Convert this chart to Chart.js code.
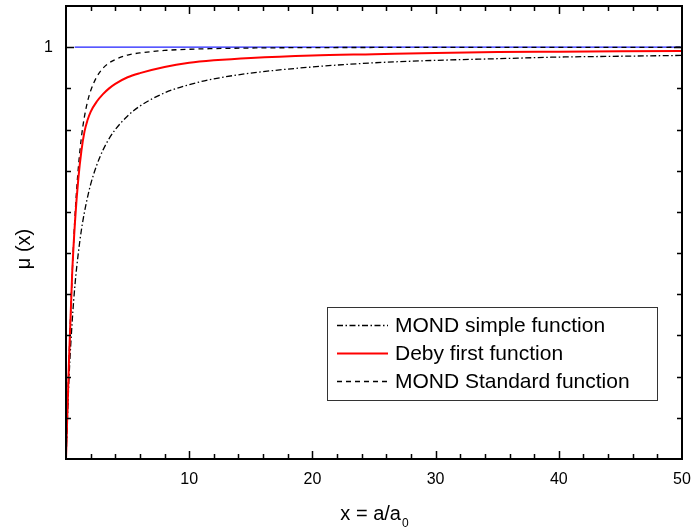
<!DOCTYPE html>
<html>
<head>
<meta charset="utf-8">
<script src="https://cdn.jsdelivr.net/npm/chart.js@4.4.1/dist/chart.umd.min.js"></script>
<style>
  html, body { margin: 0; padding: 0; background: #fff; }
  #wrap { width: 693px; height: 529px; }
</style>
</head>
<body>
<div id="wrap"><canvas id="mu"></canvas></div>
<script>
// values, x = a/a0
var xs = [0, 0.25, 0.5, 0.75, 1, 1.25, 1.5, 1.75, 2, 2.5, 3, 3.5, 4, 5, 6, 8, 10, 12, 15, 20, 25, 30, 35, 40, 45, 50];
var simple = [0, 0.20, 0.333, 0.43, 0.50, 0.556, 0.60, 0.636, 0.667, 0.714, 0.75, 0.778, 0.80, 0.833, 0.857, 0.889, 0.909, 0.923, 0.937, 0.952, 0.962, 0.968, 0.972, 0.976, 0.978, 0.980];
var deby = [0, 0.245, 0.45, 0.585, 0.68, 0.748, 0.795, 0.823, 0.843, 0.868, 0.886, 0.90, 0.911, 0.927, 0.937, 0.952, 0.962, 0.968, 0.974, 0.980, 0.983, 0.986, 0.988, 0.989, 0.990, 0.991];
var standard = [0, 0.243, 0.447, 0.60, 0.707, 0.781, 0.832, 0.868, 0.894, 0.928, 0.949, 0.962, 0.970, 0.981, 0.986, 0.992, 0.995, 0.9965, 0.998, 0.999, 0.9993, 0.9995, 0.9996, 0.9997, 0.9997, 0.9998];
var unityX = [0.7, 50];
var unityY = [1, 1];

var legendNames = ["MOND simple function", "Deby first function", "MOND Standard function"];

function pts(x, y) {
  return x.map(function (v, i) { return { x: v, y: y[i] }; });
}

// drop the label overhang padding so the frame sits where the original does
function noOverhang(s) {
  s.paddingTop = 0; s.paddingBottom = 0; s.paddingLeft = 0; s.paddingRight = 0;
}

var frame = {
  id: "frame",
  afterDraw: function (chart) {
    var c = chart.ctx, a = chart.chartArea;
    var sx = chart.scales.x, sy = chart.scales.y;
    c.save();
    c.strokeStyle = "#000";
    c.lineWidth = 2;
    c.strokeRect(a.left, a.top, a.right - a.left, a.bottom - a.top);
    c.lineWidth = 1.5;
    // x ticks, inward, bottom and top
    for (var v = 2; v < 50; v += 2) {
      var px = Math.round(sx.getPixelForValue(v)) + 0.5;
      var len = v % 10 === 0 ? 8 : 5;
      c.beginPath();
      c.moveTo(px, a.bottom); c.lineTo(px, a.bottom - len);
      c.moveTo(px, a.top); c.lineTo(px, a.top + len);
      c.stroke();
    }
    // y ticks every 0.1
    for (var k = 1; k <= 10; k++) {
      var py = Math.round(sy.getPixelForValue(k / 10)) + 0.5;
      var l2 = k === 10 ? 8 : 5;
      c.beginPath();
      c.moveTo(a.left, py); c.lineTo(a.left + l2, py);
      c.moveTo(a.right, py); c.lineTo(a.right - l2, py);
      c.stroke();
    }

    // axis titles
    c.fillStyle = "#000";
    var main = "x = a/a";
    c.font = "20px 'Liberation Sans', Arial, sans-serif";
    var w1 = c.measureText(main).width;
    c.font = "12px 'Liberation Sans', Arial, sans-serif";
    var w2 = c.measureText("0").width;
    var cx = (a.left + a.right) / 2 - (w1 + w2) / 2;
    c.textBaseline = "alphabetic";
    c.textAlign = "left";
    c.font = "20px 'Liberation Sans', Arial, sans-serif";
    c.fillText(main, cx, 520);
    c.font = "12px 'Liberation Sans', Arial, sans-serif";
    c.fillText("0", cx + w1 + 1, 527);

    c.save();
    c.translate(30, 249);
    c.rotate(-Math.PI / 2);
    c.font = "20px 'Liberation Sans', Arial, sans-serif";
    c.textAlign = "center";
    c.fillText("\u03bc (x)", 0, 0);
    c.restore();

    // legend box
    var lx = 327, ly = 307;
    c.lineWidth = 1;
    c.strokeStyle = "#333";
    c.strokeRect(lx + 0.5, ly + 0.5, 330, 93);
    var rows = [325, 353, 381];
    c.font = "21px 'Liberation Sans', Arial, sans-serif";
    c.textBaseline = "middle";
    c.textAlign = "left";
    for (var i = 0; i < 3; i++) {
      var ds = chart.data.datasets[i];
      c.beginPath();
      c.strokeStyle = ds.borderColor;
      c.lineWidth = ds.borderWidth;
      c.setLineDash(ds.borderDash || []);
      c.moveTo(337, rows[i] + 0.5);
      c.lineTo(388, rows[i] + 0.5);
      c.stroke();
      c.setLineDash([]);
      c.fillStyle = "#000";
      c.fillText(legendNames[i], 395, rows[i] + 1);
    }
    c.restore();
  }
};

new Chart(document.getElementById("mu"), {
  type: "line",
  data: {
    datasets: [
      {
        label: legendNames[0],
        data: pts(xs, simple),
        borderColor: "#000",
        borderWidth: 1.3,
        borderDash: [6, 2.5, 1.5, 2.5],
        order: 1
      },
      {
        label: legendNames[1],
        data: pts(xs, deby),
        borderColor: "#ff0000",
        borderWidth: 2,
        order: 0
      },
      {
        label: legendNames[2],
        data: pts(xs, standard),
        borderColor: "#000",
        borderWidth: 1.3,
        borderDash: [5, 4],
        order: 2
      },
      {
        label: "unity",
        data: pts(unityX, unityY),
        borderColor: "#2020ff",
        borderWidth: 1.2,
        order: 3
      }
    ]
  },
  options: {
    responsive: true,
    maintainAspectRatio: false,
    animation: false,
    layout: { padding: { top: 6, right: 11, left: 0, bottom: 0 } },
    elements: {
      point: { radius: 0 },
      line: { cubicInterpolationMode: "monotone", fill: false }
    },
    plugins: {
      legend: { display: false },
      tooltip: { enabled: false }
    },
    scales: {
      x: {
        type: "linear",
        min: 0,
        max: 50,
        grid: { display: false, drawTicks: false },
        border: { display: false },
        afterFit: function (s) { s.height = 529 - 459; noOverhang(s); },
        ticks: {
          stepSize: 2,
          autoSkip: false,
          maxRotation: 0,
          padding: 11,
          color: "#000",
          font: { family: "'Liberation Sans', Arial, sans-serif", size: 16 },
          callback: function (v) { return (v > 0 && v % 10 === 0) ? String(v) : ""; }
        }
      },
      y: {
        type: "linear",
        min: 0,
        max: 1.1,
        grid: { display: false, drawTicks: false },
        border: { display: false },
        afterFit: function (s) { s.width = 66; noOverhang(s); },
        ticks: {
          stepSize: 0.1,
          autoSkip: false,
          padding: 13,
          color: "#000",
          font: { family: "'Liberation Sans', Arial, sans-serif", size: 16 },
          callback: function (v) { return Math.abs(v - 1) < 1e-6 ? "1" : ""; }
        }
      }
    }
  },
  plugins: [frame]
});
</script>
</body>
</html>
